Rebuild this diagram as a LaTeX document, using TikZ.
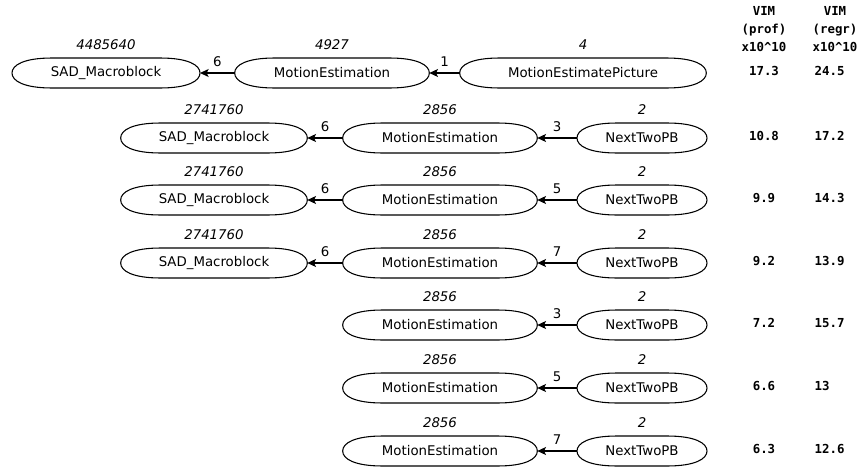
\documentclass[tikz,border=0pt]{standalone}
\usepackage{fontspec}
\setmainfont{DejaVu Sans}
\newfontfamily\vimfont{DejaVu Sans Mono}
\usetikzlibrary{arrows.meta}

\tikzset{
  func/.style={rectangle, inner sep=0pt, outer sep=0pt, minimum height=22.5pt,
    font=\fontsize{10}{12}\selectfont},
  callcount/.style={font=\fontsize{10}{12}\selectfont\itshape},
  calls/.style={-{Stealth[length=6.5pt,width=6pt,inset=1.5pt]}, line width=0.8pt},
  edgenum/.style={above=3.5pt, inner sep=1pt, font=\fontsize{10}{12}\selectfont},
  vim/.style={font=\fontsize{9.3}{13.5}\selectfont\vimfont\bfseries}
}

% blunt oval round a function node
\newcommand\funcoutline[1]{%
  \draw[line width=0.8pt] (#1.west)
    .. controls ([yshift=6pt]#1.west) and ([xshift=9pt]#1.north west) .. ([xshift=30pt]#1.north west)
    -- ([xshift=-30pt]#1.north east)
    .. controls ([xshift=-9pt]#1.north east) and ([yshift=6pt]#1.east) .. (#1.east)
    .. controls ([yshift=-6pt]#1.east) and ([xshift=-9pt]#1.south east) .. ([xshift=-30pt]#1.south east)
    -- ([xshift=30pt]#1.south west)
    .. controls ([xshift=9pt]#1.south west) and ([yshift=-6pt]#1.west) .. cycle;}

\begin{document}
\begin{tikzpicture}[x=0.75pt, y=-0.75pt, label distance=2.8pt]
    \useasboundingbox (0,0) rectangle (865,468);

    % VIM columns
    \node[vim, align=center] (headprof) at (764,29) {VIM\\(prof)\\x10\textasciicircum10};
    \node[vim, align=center] (headregr) at (835,29) {VIM\\(regr)\\x10\textasciicircum10};

    % Row 1
    \node[func, minimum width=141pt, label={[callcount]above:4485640}] (sad1) at (106,73) {SAD\_Macroblock};
    \node[func, minimum width=146pt, label={[callcount]above:4927}] (me1) at (332,73) {MotionEstimation};
    \node[func, minimum width=185pt, label={[callcount]above:4}] (mep1) at (583,73) {MotionEstimatePicture};
    \funcoutline{sad1}
    \funcoutline{me1}
    \funcoutline{mep1}
    \draw[calls] (mep1) -- node[edgenum] {1} (me1);
    \draw[calls] (me1) -- node[edgenum] {6} (sad1);
    \node[vim] (prof1) at (764,71) {17.3};
    \node[vim, anchor=west] (regr1) at (810,71) {24.5};

    % Rows 2-4
    \foreach \row/\y/\e/\vp/\vr in {2/138/3/10.8/17.2, 3/200/5/9.9/14.3, 4/263/7/9.2/13.9}{
        \node[func, minimum width=140pt, label={[callcount]above:2741760}] (sad\row) at (214,\y) {SAD\_Macroblock};
        \node[func, minimum width=146pt, label={[callcount]above:2856}] (me\row) at (440,\y) {MotionEstimation};
        \node[func, minimum width=97.5pt, label={[callcount]above:2}] (ntpb\row) at (642,\y) {NextTwoPB};
        \funcoutline{sad\row}
        \funcoutline{me\row}
        \funcoutline{ntpb\row}
        \draw[calls] (ntpb\row) -- node[edgenum] {\e} (me\row);
        \draw[calls] (me\row) -- node[edgenum] {6} (sad\row);
        \node[vim] (prof\row) at (764,\y-2) {\vp};
        \node[vim, anchor=west] (regr\row) at (810,\y-2) {\vr};
    }

    % Rows 5-7
    \foreach \row/\y/\e/\vp/\vr in {5/325/3/7.2/15.7, 6/388/5/6.6/13, 7/451/7/6.3/12.6}{
        \node[func, minimum width=146pt, label={[callcount]above:2856}] (me\row) at (440,\y) {MotionEstimation};
        \node[func, minimum width=97.5pt, label={[callcount]above:2}] (ntpb\row) at (642,\y) {NextTwoPB};
        \funcoutline{me\row}
        \funcoutline{ntpb\row}
        \draw[calls] (ntpb\row) -- node[edgenum] {\e} (me\row);
        \node[vim] (prof\row) at (764,\y-2) {\vp};
        \node[vim, anchor=west] (regr\row) at (810,\y-2) {\vr};
    }

\end{tikzpicture}
\end{document}
